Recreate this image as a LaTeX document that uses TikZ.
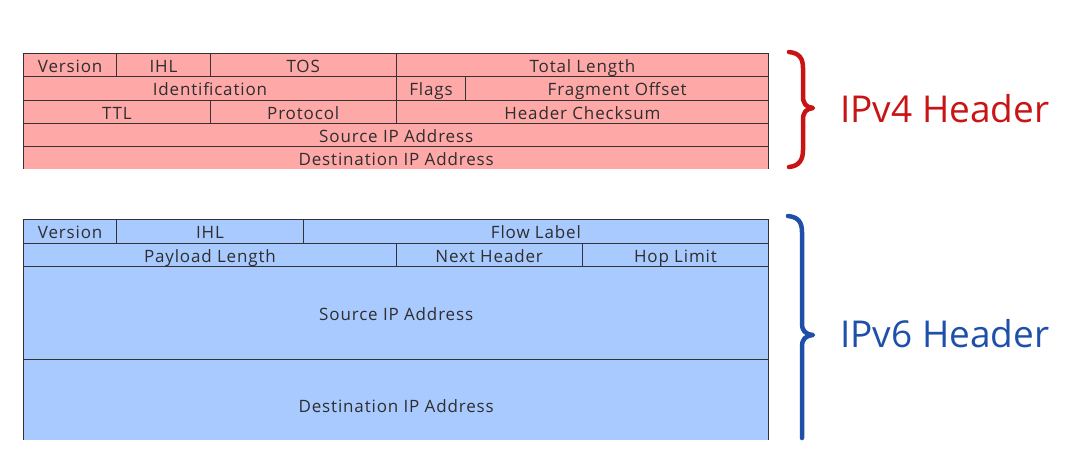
\documentclass[tikz,border=0pt]{standalone}
\usepackage{fontspec}
\setmainfont{Open Sans}
\newfontfamily\cellfont[LetterSpace=5]{Open Sans}
\definecolor{pinkf}{HTML}{FFA8A8}
\definecolor{bluef}{HTML}{A9CAFF}
\definecolor{linec}{HTML}{333333}
\definecolor{txtc}{HTML}{2E2E2E}
\definecolor{redl}{HTML}{C81414}
\definecolor{bluel}{HTML}{1E50AA}
\newcommand\ipcell[7]{%
  \node[cell, fill=#7, minimum width={(#4-#2)*1pt}, minimum height={(#5-#3)*1pt}] (#1) at (#2,#3) {#6};}
\begin{document}
\begin{tikzpicture}[x=1pt,y=-1pt,
  cell/.style={draw=linec, line width=1.4pt, inner sep=0pt, anchor=north west,
    text=txtc, font=\cellfont\fontsize{17}{17}\selectfont, text height=15pt, text depth=0pt},
  bracestyle/.style={line width=4.5pt, line cap=round, line join=round},
  hdrlabel/.style={anchor=base west, inner sep=0pt, font=\fontsize{37}{37}\selectfont}]
\useasboundingbox (0,0) rectangle (1092,459);
% IPv4 header
\begin{scope}
\clip (0,0) rectangle (1092,168);
\ipcell{v4ver}{23}{53}{116}{76}{Version}{pinkf}
\ipcell{v4ihl}{116}{53}{209.5}{76}{IHL}{pinkf}
\ipcell{v4tos}{209.5}{53}{395.5}{76}{TOS}{pinkf}
\ipcell{v4len}{395.5}{53}{768}{76}{Total Length}{pinkf}
\ipcell{v4id}{23}{76}{395.5}{99.5}{Identification}{pinkf}
\ipcell{v4flg}{395.5}{76}{465}{99.5}{Flags}{pinkf}
\ipcell{v4frag}{465}{76}{768}{99.5}{Fragment Offset}{pinkf}
\ipcell{v4ttl}{23}{99.5}{209.5}{122.5}{TTL}{pinkf}
\ipcell{v4prot}{209.5}{99.5}{395.5}{122.5}{Protocol}{pinkf}
\ipcell{v4chk}{395.5}{99.5}{768}{122.5}{Header Checksum}{pinkf}
\ipcell{v4src}{23}{122.5}{768}{146}{Source IP Address}{pinkf}
\ipcell{v4dst}{23}{146}{768}{169.5}{Destination IP Address}{pinkf}
\end{scope}
% IPv6 header
\begin{scope}
\clip (0,0) rectangle (1092,439);
\ipcell{v6ver}{23}{219}{116}{242.5}{Version}{bluef}
\ipcell{v6ihl}{116}{219}{302.5}{242.5}{IHL}{bluef}
\ipcell{v6flow}{302.5}{219}{768}{242.5}{Flow Label}{bluef}
\ipcell{v6pay}{23}{242.5}{395.5}{266}{Payload Length}{bluef}
\ipcell{v6nxt}{395.5}{242.5}{581.5}{266}{Next Header}{bluef}
\ipcell{v6hop}{581.5}{242.5}{768}{266}{Hop Limit}{bluef}
\ipcell{v6src}{23}{266}{768}{358.5}{Source IP Address}{bluef}
\ipcell{v6dst}{23}{358.5}{768}{451}{Destination IP Address}{bluef}
\end{scope}
% braces
\draw[bracestyle, redl] (789,52) .. controls (799,53) and (803,58) .. (803,68) -- (803,96)
  .. controls (803,104) and (806,107) .. (813,108)
  .. controls (806,109) and (803,112) .. (803,120) -- (803,150)
  .. controls (803,160) and (799,166) .. (789,167);
\draw[bracestyle, bluel] (788,216) .. controls (798,217) and (802,222) .. (802,232) -- (802,323)
  .. controls (802,331) and (805,334) .. (813,335)
  .. controls (805,336) and (802,339) .. (802,347) -- (802,438);
\node[hdrlabel, text=redl] (v4lbl) at (840,122) {IPv4 Header};
\node[hdrlabel, text=bluel] (v6lbl) at (840,347) {IPv6 Header};
\end{tikzpicture}
\end{document}
